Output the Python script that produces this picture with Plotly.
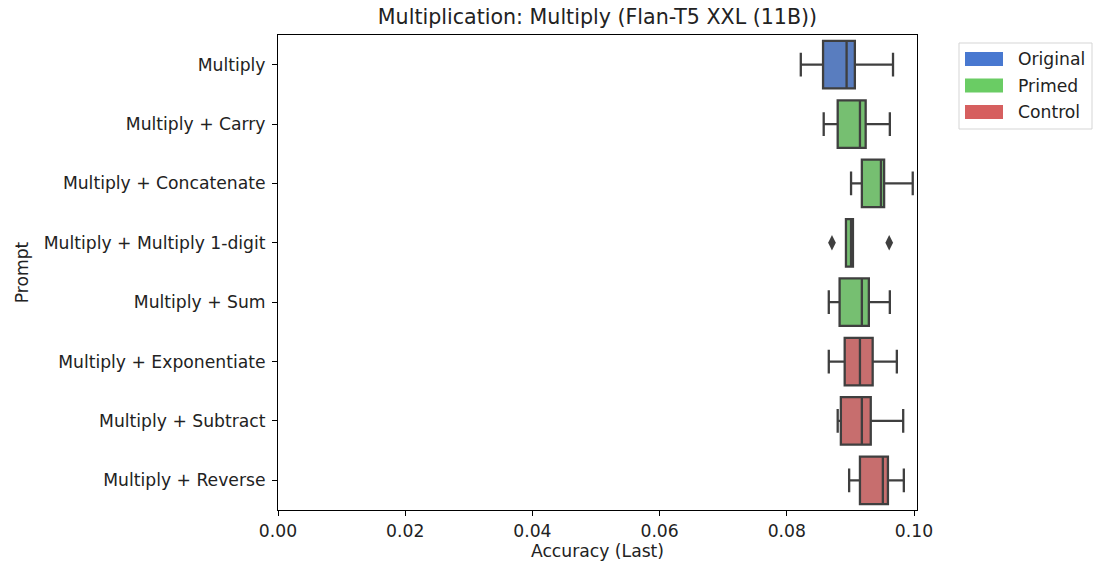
import plotly.graph_objects as go

# Prompt variants (top to bottom) and their group
prompts = [
    "Multiply",
    "Multiply + Carry",
    "Multiply + Concatenate",
    "Multiply + Multiply 1-digit",
    "Multiply + Sum",
    "Multiply + Exponentiate",
    "Multiply + Subtract",
    "Multiply + Reverse",
]
groups = ["Original", "Primed", "Primed", "Primed", "Primed", "Control", "Control", "Control"]

# Box statistics of accuracy (last checkpoint)
whisker_lo = [0.0822, 0.0858, 0.0901, 0.0893, 0.0866, 0.0866, 0.0880, 0.0898]
q1 = [0.0857, 0.0880, 0.0918, 0.0893, 0.0883, 0.0891, 0.0885, 0.0915]
median = [0.0894, 0.0915, 0.0948, 0.0901, 0.0918, 0.0915, 0.0918, 0.0951]
q3 = [0.0907, 0.0924, 0.0953, 0.0904, 0.0929, 0.0935, 0.0932, 0.0959]
whisker_hi = [0.0967, 0.0962, 0.0998, 0.0904, 0.0962, 0.0973, 0.0983, 0.0984]

# Points beyond the whiskers
outlier_prompts = ["Multiply + Multiply 1-digit", "Multiply + Multiply 1-digit"]
outlier_values = [0.0871, 0.0961]

group_names = ["Original", "Primed", "Control"]
legend_colors = {"Original": "#4878d0", "Primed": "#6acc64", "Control": "#d65f5f"}
box_colors = {"Original": "#597dbf", "Primed": "#76bf71", "Control": "#c76e6e"}
edge = "#3f3f3f"
font_family = "DejaVu Sans"
text_size = 17.2

fig = go.Figure()

for g in group_names:
    idx = [i for i, gg in enumerate(groups) if gg == g]
    fig.add_trace(go.Box(
        orientation="h",
        y=[prompts[i] for i in idx],
        q1=[q1[i] for i in idx],
        median=[median[i] for i in idx],
        q3=[q3[i] for i in idx],
        lowerfence=[whisker_lo[i] for i in idx],
        upperfence=[whisker_hi[i] for i in idx],
        width=0.8,
        whiskerwidth=0.5,
        fillcolor=box_colors[g],
        line=dict(color=edge, width=2.3),
        name=g,
        showlegend=False,
        hoverinfo="skip",
    ))

fig.add_trace(go.Scatter(
    x=outlier_values,
    y=outlier_prompts,
    mode="markers",
    marker=dict(symbol="diamond-tall", size=11, color=edge),
    showlegend=False,
    hoverinfo="skip",
))

# Plot area geometry (pixels) for the legend placement
W, H = 1094, 571
L, R, T, B = 278, 177, 35, 61
pw, ph = W - L - R, H - T - B


def px_x(x):
    return (x - L) / pw


def px_y(y):
    return (H - B - y) / ph


shapes = [
    dict(type="rect", xref="paper", yref="paper",
         x0=px_x(959), x1=px_x(1092), y0=px_y(43), y1=px_y(129),
         line=dict(color="#d5d5d5", width=1), fillcolor="white", layer="above"),
]
annotations = []
for k, g in enumerate(group_names):
    cy = 59 + k * 26.5
    shapes.append(dict(type="rect", xref="paper", yref="paper",
                       x0=px_x(965), x1=px_x(1003), y0=px_y(cy - 7), y1=px_y(cy + 7),
                       line=dict(width=0), fillcolor=legend_colors[g], layer="above"))
    annotations.append(dict(xref="paper", yref="paper", x=px_x(1016), y=px_y(cy),
                            text=g, showarrow=False, xanchor="left", yanchor="middle",
                            font=dict(family=font_family, size=text_size, color="#222222")))

fig.update_layout(
    width=W, height=H,
    margin=dict(l=L, r=R, t=T, b=B, pad=0),
    plot_bgcolor="white", paper_bgcolor="white",
    boxmode="overlay",
    font=dict(family=font_family, size=text_size, color="#222222"),
    title=dict(text="Multiplication: Multiply (Flan-T5 XXL (11B))",
               x=(L + pw / 2) / W, xanchor="center", y=1 - 17 / H, yanchor="middle",
               font=dict(family=font_family, size=20.6, color="#222222")),
    shapes=shapes,
    annotations=annotations,
    showlegend=False,
)

fig.update_xaxes(
    range=[0, 0.10047],
    tickvals=[0, 0.02, 0.04, 0.06, 0.08, 0.10],
    ticktext=["0.00", "0.02", "0.04", "0.06", "0.08", "0.10"],
    ticks="outside", ticklen=5, tickwidth=1, tickcolor="black",
    showline=True, linecolor="black", linewidth=1, mirror=True,
    showgrid=False, zeroline=False,
    title=dict(text="Accuracy (Last)", standoff=5, font=dict(size=text_size)),
    tickfont=dict(size=text_size),
)
fig.update_yaxes(
    categoryorder="array", categoryarray=prompts,
    range=[len(prompts) - 0.5, -0.5], autorange=False,
    ticks="outside", ticklen=5, tickwidth=1, tickcolor="black",
    showline=True, linecolor="black", linewidth=1, mirror=True,
    showgrid=False, zeroline=False,
    title=dict(text="Prompt", standoff=10, font=dict(size=text_size)),
    tickfont=dict(size=text_size),
    ticklabelstandoff=3,
)

fig.write_html("out.html")
